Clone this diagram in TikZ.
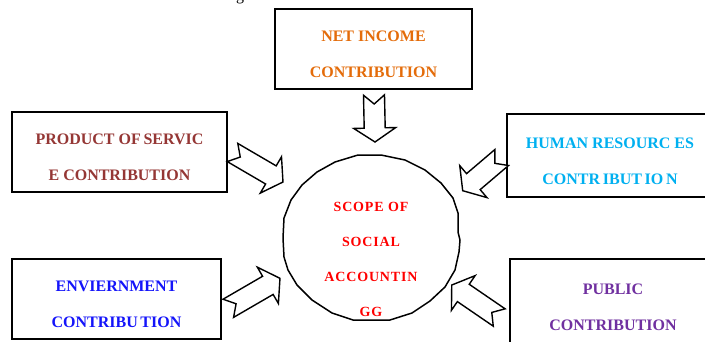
\documentclass[tikz,border=0pt]{standalone}
\usepackage{fontspec}
\setmainfont{Liberation Serif}
\newfontfamily\scopefont[LetterSpace=6]{Liberation Serif}
\usepackage{tikz}
\usetikzlibrary{calc}

\definecolor{netorange}{RGB}{228,108,10}
\definecolor{prodred}{RGB}{149,55,53}
\definecolor{humanblue}{RGB}{0,176,240}
\definecolor{envblue}{RGB}{20,20,250}
\definecolor{pubpurple}{RGB}{112,48,160}
\definecolor{scopered}{RGB}{255,0,0}

\tikzset{
  contribbox/.style={draw, line width=1.6pt, fill=white, align=center, inner sep=0pt,
    minimum height=80pt, font=\bfseries\fontsize{16}{36}\selectfont},
  scopetext/.style={align=center, text=scopered, inner sep=0pt,
    font=\scopefont\bfseries\fontsize{14}{35}\selectfont},
  scopeedge/.style={draw, line width=1.5pt, line join=round},
  blockbody/.style={draw, line width=1.4pt, fill=white, line join=miter},
}

% pushes the two lines a little below the middle of a box
\newcommand{\lift}{\rule{0pt}{22pt}}

% outlined arrow with a notched tail, from #1 (tail) to #2 (tip)
\newcommand{\blockarrow}[2]{%
  \pgfpointdiff{\pgfpointanchor{#1}{center}}{\pgfpointanchor{#2}{center}}%
  \pgfgetlastxy{\arrdx}{\arrdy}%
  \pgfmathsetmacro{\arrowang}{atan2(\arrdy,\arrdx)}%
  \pgfmathsetmacro{\arrowlen}{veclen(\arrdx,\arrdy)}%
  \pgfmathsetmacro{\arrowneck}{\arrowlen-14}%
  \begin{scope}[shift={(#1)}, rotate=\arrowang]
    \draw[blockbody] (0pt,10.5pt) -- (9pt,0pt) -- (0pt,-10.5pt) -- (\arrowneck pt,-10.5pt)
      -- (\arrowneck pt,-21pt) -- (\arrowlen pt,0pt) -- (\arrowneck pt,21pt)
      -- (\arrowneck pt,10.5pt) -- cycle;
  \end{scope}}

\begin{document}
\begin{tikzpicture}[x=1pt, y=-1pt]
  \useasboundingbox (0,0) rectangle (705,341);

  % caption cut off at the top
  \node[anchor=base, inner sep=0pt, font=\fontsize{16}{16}\selectfont] (caption) at (240,0.5) {g};

  % Contribution boxes
  \node[contribbox, minimum width=197pt, text=netorange] (net) at (373.5,49)
    {\lift NET INCOME\\CONTRIBUTION};
  \node[contribbox, minimum width=215pt, text=prodred] (product) at (119.5,152)
    {\lift PRODUCT OF\,SERVIC\\E CONTRIBUTION};
  \node[contribbox, minimum width=206pt, minimum height=83pt, text=humanblue] (human) at (610,155.5)
    {\lift HUMAN RESOURC ES\\CONTR\,IBUT\,IO\,N};
  \node[contribbox, minimum width=209pt, text=envblue] (env) at (116.5,299)
    {\lift ENVIERNMENT\\CONTRIBU\,TION};
  \node[contribbox, minimum width=206pt, minimum height=85pt, text=pubpurple] (public) at (613,301.5)
    {\lift PUBLIC\\CONTRIBUTION};

  % Scope of social accounting
  \draw[scopeedge] (358,155) -- (381,155) -- (405,160) -- (425,170) -- (441,183) -- (453,198)
    -- (458,213) -- (458,232) -- (460,240) -- (459,252) -- (455,270) -- (445,287) -- (430,301)
    -- (412,313) -- (390,320) -- (353,320) -- (332,313) -- (312,300) -- (297,285) -- (288,270)
    -- (284,257) -- (283,238) -- (284,218) -- (291,200) -- (302,185) -- (317,172) -- (335,162)
    -- cycle;
  \node[scopetext] (scope) at (371,259.5) {SCOPE OF\\SOCIAL\\ACCOUNTIN\\GG};

  % Arrows into the scope
  \coordinate (net-tail) at (374,95);
  \coordinate (net-tip) at (375,142);
  \coordinate (product-tail) at (232.5,152.5);
  \coordinate (product-tip) at (283,182);
  \coordinate (human-tail) at (501.7,157.5);
  \coordinate (human-tip) at (462.7,190.7);
  \coordinate (env-tail) at (228.3,308.3);
  \coordinate (env-tip) at (280,278.3);
  \coordinate (public-tail) at (499.2,317.5);
  \coordinate (public-tip) at (451.7,285);

  \blockarrow{net-tail}{net-tip}
  \blockarrow{product-tail}{product-tip}
  \blockarrow{human-tail}{human-tip}
  \blockarrow{env-tail}{env-tip}
  \blockarrow{public-tail}{public-tip}
\end{tikzpicture}
\end{document}
